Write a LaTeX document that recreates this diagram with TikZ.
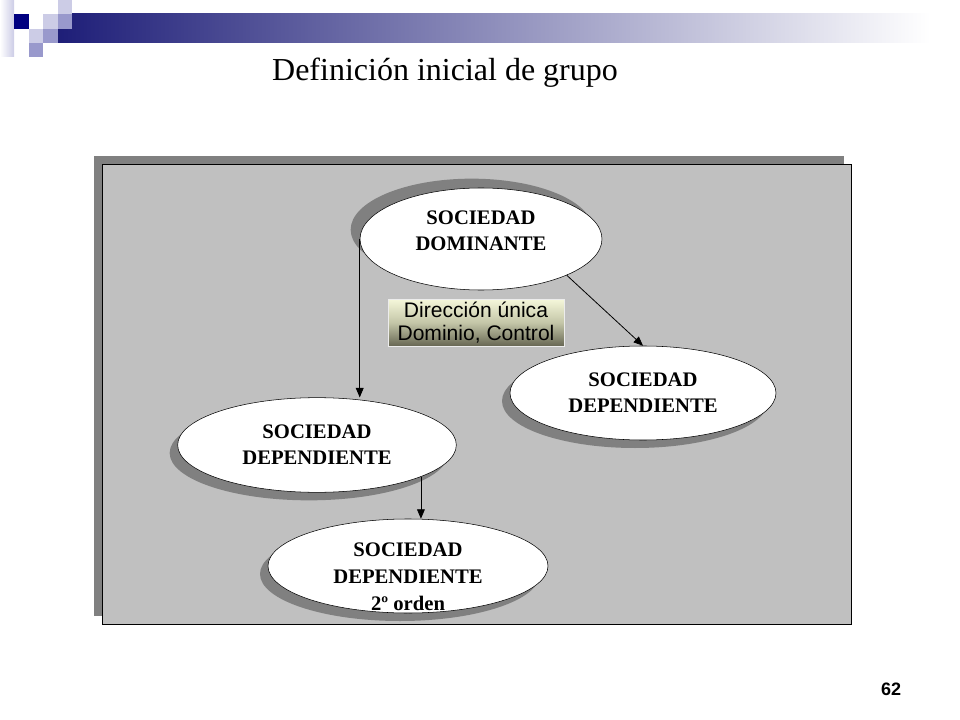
\documentclass[tikz,border=0pt]{standalone}
\usepackage{fontspec}
\setmainfont{Liberation Serif}
\newfontfamily\arial{Liberation Sans}
\usepackage{tikz}
\usetikzlibrary{arrows}
\usetikzlibrary{shapes.geometric,shadows}

\definecolor{panelgray}{RGB}{192,192,192}
\definecolor{shadowgray}{RGB}{128,128,128}
\definecolor{navy}{RGB}{0,0,128}
\definecolor{barnavy}{RGB}{30,30,120}
\definecolor{lavlight}{RGB}{204,204,230}
\definecolor{lavmid}{RGB}{153,153,204}
\definecolor{boxtop}{RGB}{245,247,218}
\definecolor{boxmid}{RGB}{196,198,168}
\definecolor{boxbot}{RGB}{104,104,84}

\tikzset{
    soc/.style={ellipse, draw, fill=white, align=center, inner sep=0pt,
        font=\fontsize{15.5pt}{19.5pt}\selectfont\bfseries},
    shadowdown/.style={drop shadow={shadow xshift=-6pt, shadow yshift=-6pt, opacity=1, fill=shadowgray}},
    shadowup/.style={drop shadow={shadow xshift=-7pt, shadow yshift=7pt, opacity=1, fill=shadowgray}},
    ctrlbox/.style={draw=white!85!gray, thin, top color=boxtop, bottom color=boxbot, middle color=boxmid,
        align=center, inner sep=0pt, minimum width=132pt, minimum height=35pt,
        font=\arial\fontsize{15.8pt}{17.5pt}\selectfont},
    flow/.style={arrows={-triangle 45}, line width=0.6pt}
}

\begin{document}
\begin{tikzpicture}[x=0.75pt, y=-0.75pt]
            \useasboundingbox (0,0) rectangle (960,720);
            % top left squares and bar
            \shade[left color=white, right color=lavlight] (0,0) rectangle (14,57);
            \shade[left color=barnavy, right color=white] (58,14) rectangle (930,43);
            \fill[navy] (14,14) rectangle (29,29);
            \fill[lavlight] (43,14) rectangle (58,29);
            \fill[lavlight] (58,0) rectangle (72,14);
            \fill[lavmid] (58,14) rectangle (72,29);
            \fill[lavlight] (29,29) rectangle (43,43);
            \fill[lavmid] (43,29) rectangle (58,43);
            \fill[lavmid] (29,43) rectangle (43,57);
            \node[font=\fontsize{24pt}{28pt}\selectfont] (title) at (445,73) {Definición inicial de grupo};
            % panel
            \fill[shadowgray] (94,156) rectangle (844,616);
            \draw[fill=panelgray] (102,164) rectangle (851,624);
            \node[soc, shadowup, minimum width=181.5pt, minimum height=76.5pt] (dom) at (481,239)
                {\raisebox{1.4pt}[0pt][0pt]{\begin{tabular}{@{}c@{}}SOCIEDAD\\DOMINANTE\end{tabular}}};
            \node[soc, shadowdown, minimum width=209pt, minimum height=71pt] (depA) at (317,445) {SOCIEDAD\\DEPENDIENTE};
            \node[soc, shadowdown, minimum width=199.5pt, minimum height=70.5pt] (depB) at (643,393) {SOCIEDAD\\DEPENDIENTE};
            \node[soc, shadowdown, minimum width=210pt, minimum height=70.5pt] (depC) at (408,566)
                {\raisebox{-12.9pt}[0pt][0pt]{\begin{tabular}{@{}c@{}}SOCIEDAD\\[1pt]DEPENDIENTE\\[1pt]2º orden\end{tabular}}};
            \node[ctrlbox] (ctrl) at (476,322.5) {Dirección única\\Dominio, Control};
            \draw[flow] (dom.west) -- (dom.west |- depA.north);
            \draw[flow] (dom.south east) -- (depB.north);
            \draw[flow] (depA.-17) -- (depA.-17 |- depC.north);
            \node[font=\arial\bfseries\fontsize{13.5pt}{16pt}\selectfont] (pnum) at (891,689) {62};
\end{tikzpicture}
\end{document}
